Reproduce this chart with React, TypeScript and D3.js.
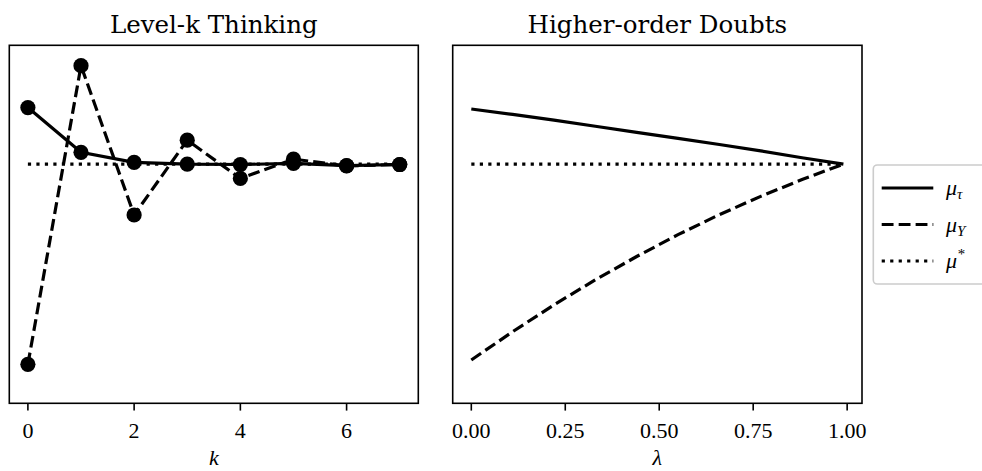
import React from "react";
import * as d3 from "d3";

// ---- Data ----
const kValues = [0, 1, 2, 3, 4, 5, 6, 7];
const levelKTau = [0.826, 0.701, 0.673, 0.668, 0.667, 0.670, 0.664, 0.667];
const levelKY = [0.109, 0.943, 0.526, 0.735, 0.628, 0.682, 0.663, 0.667];
const muStar = 0.668;

const lambdaValues = [0, 0.11, 0.22, 0.33, 0.44, 0.55, 0.66, 0.77, 0.88, 0.99];
const doubtsTau = [0.822, 0.807, 0.791, 0.774, 0.757, 0.740, 0.723, 0.705, 0.686, 0.668];
const doubtsY = [0.121, 0.200, 0.275, 0.345, 0.410, 0.471, 0.527, 0.578, 0.625, 0.668];

const kTicks = [0, 2, 4, 6];
const lambdaTicks = [0, 0.25, 0.5, 0.75, 1.0];
const titles = ["Level-k Thinking", "Higher-order Doubts"];

// ---- Layout ----
const W = 982, H = 471;
const top = 45.3, bottom = 403.3;
const LW = 3.2;
const DASH = `${3.7 * LW} ${1.6 * LW}`;
const DOT = `${1 * LW} ${1.65 * LW}`;
const FONT = "DejaVu Serif, serif";
const TICKFONT = "Liberation Serif, serif";

const y = d3.scaleLinear().domain([0, 1]).range([bottom, top]);
const xL = d3.scaleLinear().domain([-0.35, 7.35]).range([9.3, 418.3]);
const xR = d3.scaleLinear().domain([-0.0495, 1.0395]).range([452.7, 862]);

function Panel({ x, ticks, fmt, title, xlabel, children }: any) {
  const [x0, x1] = x.range();
  return (
    <g>
      {children}
      <rect x={x0} y={top} width={x1 - x0} height={bottom - top} fill="none" stroke="#000" strokeWidth={1.6} />
      {ticks.map((t: number) => (
        <g key={t}>
          <line x1={x(t)} x2={x(t)} y1={bottom} y2={bottom + 7.3} stroke="#000" strokeWidth={1.6} />
          <text x={x(t)} y={438} textAnchor="middle" fontFamily={TICKFONT} fontSize={22}>{fmt(t)}</text>
        </g>
      ))}
      <text x={(x0 + x1) / 2} y={33} textAnchor="middle" fontFamily={FONT} fontSize={24.5}>{title}</text>
      <text x={(x0 + x1) / 2} y={465} textAnchor="middle" fontFamily={TICKFONT} fontStyle="italic" fontSize={22}>{xlabel}</text>
    </g>
  );
}

export default function App() {
  const lineL = d3.line<number>().x((_, i) => xL(kValues[i])).y((d) => y(d));
  const lineR = d3.line<number>().x((_, i) => xR(lambdaValues[i])).y((d) => y(d));
  const starL = d3.line<number>().x((d) => xL(d)).y(() => y(muStar));
  const starR = d3.line<number>().x((d) => xR(d)).y(() => y(muStar));

  const legendItems = [
    { dash: undefined, label: "τ", sup: false },
    { dash: DASH, label: "Y", sup: false },
    { dash: DOT, label: "*", sup: true },
  ];
  const legendY = [188, 224.5, 261];

  return (
    <svg width={W} height={H} style={{ position: "absolute", left: 0, top: 0 }}>
      <rect width={W} height={H} fill="#fff" />
      <Panel x={xL} ticks={kTicks} fmt={(t: number) => String(t)} title={titles[0]} xlabel="k">
        <path d={starL([kValues[0], kValues[kValues.length - 1]]) || ""} fill="none" stroke="#000" strokeWidth={LW} strokeDasharray={DOT} />
        <path d={lineL(levelKTau) || ""} fill="none" stroke="#000" strokeWidth={LW} />
        {levelKTau.map((v, i) => <circle key={"t" + i} cx={xL(kValues[i])} cy={y(v)} r={7.6} fill="#000" />)}
        <path d={lineL(levelKY) || ""} fill="none" stroke="#000" strokeWidth={LW} strokeDasharray={DASH} />
        {levelKY.map((v, i) => <circle key={"y" + i} cx={xL(kValues[i])} cy={y(v)} r={7.6} fill="#000" />)}
      </Panel>
      <Panel x={xR} ticks={lambdaTicks} fmt={(t: number) => t.toFixed(2)} title={titles[1]} xlabel="λ">
        <path d={lineR(doubtsTau) || ""} fill="none" stroke="#000" strokeWidth={LW} />
        <path d={lineR(doubtsY) || ""} fill="none" stroke="#000" strokeWidth={LW} strokeDasharray={DASH} />
        <path d={starR([lambdaValues[0], lambdaValues[lambdaValues.length - 1]]) || ""} fill="none" stroke="#000" strokeWidth={LW} strokeDasharray={DOT} />
      </Panel>
      <g>
        <rect x={873.3} y={165} width={130} height={119} rx={4} fill="#fff" fillOpacity={0.8} stroke="#cccccc" strokeWidth={1.6} />
        {legendItems.map((it, i) => (
          <g key={i}>
            <line x1={881.7} x2={933.3} y1={legendY[i]} y2={legendY[i]} stroke="#000" strokeWidth={LW} strokeDasharray={it.dash} />
            <text x={946} y={legendY[i] + 7} fontFamily={TICKFONT} fontStyle="italic" fontSize={22}>
              μ
              <tspan fontSize={15} dy={it.sup ? -9 : 4}>{it.label}</tspan>
            </text>
          </g>
        ))}
      </g>
    </svg>
  );
}
